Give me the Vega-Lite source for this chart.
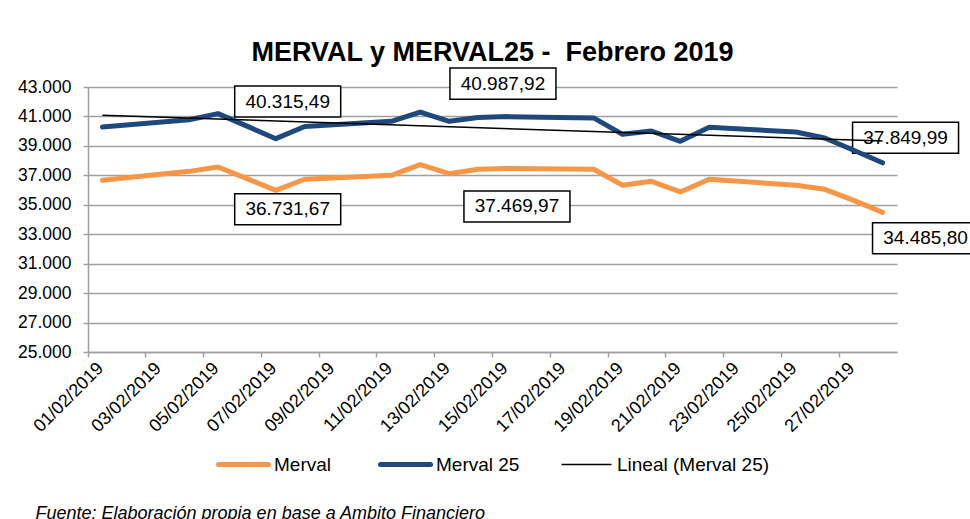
{
  "$schema": "https://vega.github.io/schema/vega-lite/v6.json",
  "background": "white",
  "padding": {"left": 17, "top": 39, "right": 5, "bottom": 5},
  "config": {
    "font": "Liberation Sans",
    "locale": {"number": {"decimal": ",", "thousands": ".", "grouping": [3], "currency": ["$", ""]}},
    "view": {"stroke": null},
    "axis": {
      "labelFont": "Liberation Sans",
      "labelFontSize": 17.5,
      "labelColor": "#000000",
      "domainColor": "#a0a0a0",
      "domainWidth": 1.5,
      "tickColor": "#a0a0a0",
      "tickWidth": 1.5,
      "tickSize": 5,
      "gridColor": "#a0a0a0",
      "gridWidth": 1.5,
      "title": null
    },
    "legend": {
      "title": null,
      "labelFont": "Liberation Sans",
      "labelFontSize": 19,
      "labelColor": "#000000",
      "symbolType": "stroke",
      "symbolSize": 2500,
      "labelOffset": 21,
      "columnPadding": 38,
      "gridAlign": "none"
    }
  },
  "title": {
    "text": "Fuente: Elaboración propia en base a Ambito Financiero",
    "orient": "bottom",
    "anchor": "start",
    "font": "Liberation Sans",
    "fontSize": 18,
    "fontStyle": "italic",
    "fontWeight": "normal",
    "color": "#000000",
    "offset": 30,
    "dx": 18
  },
  "datasets": {
    "series": [
      {"date": "01/02/2019", "series": "Merval", "value": 36660},
      {"date": "04/02/2019", "series": "Merval", "value": 37270},
      {"date": "05/02/2019", "series": "Merval", "value": 37566},
      {"date": "06/02/2019", "series": "Merval", "value": 36773},
      {"date": "07/02/2019", "series": "Merval", "value": 35980},
      {"date": "08/02/2019", "series": "Merval", "value": 36731.67},
      {"date": "11/02/2019", "series": "Merval", "value": 37000},
      {"date": "12/02/2019", "series": "Merval", "value": 37725},
      {"date": "13/02/2019", "series": "Merval", "value": 37110},
      {"date": "14/02/2019", "series": "Merval", "value": 37408},
      {"date": "15/02/2019", "series": "Merval", "value": 37469.97},
      {"date": "18/02/2019", "series": "Merval", "value": 37410},
      {"date": "19/02/2019", "series": "Merval", "value": 36323},
      {"date": "20/02/2019", "series": "Merval", "value": 36595},
      {"date": "21/02/2019", "series": "Merval", "value": 35870},
      {"date": "22/02/2019", "series": "Merval", "value": 36730},
      {"date": "25/02/2019", "series": "Merval", "value": 36323},
      {"date": "26/02/2019", "series": "Merval", "value": 36050},
      {"date": "27/02/2019", "series": "Merval", "value": 35300},
      {"date": "28/02/2019", "series": "Merval", "value": 34485.80},
      {"date": "01/02/2019", "series": "Merval 25", "value": 40283},
      {"date": "04/02/2019", "series": "Merval 25", "value": 40780},
      {"date": "05/02/2019", "series": "Merval 25", "value": 41190},
      {"date": "06/02/2019", "series": "Merval 25", "value": 40340},
      {"date": "07/02/2019", "series": "Merval 25", "value": 39490},
      {"date": "08/02/2019", "series": "Merval 25", "value": 40315.49},
      {"date": "11/02/2019", "series": "Merval 25", "value": 40670},
      {"date": "12/02/2019", "series": "Merval 25", "value": 41300},
      {"date": "13/02/2019", "series": "Merval 25", "value": 40670},
      {"date": "14/02/2019", "series": "Merval 25", "value": 40930},
      {"date": "15/02/2019", "series": "Merval 25", "value": 40987.92},
      {"date": "18/02/2019", "series": "Merval 25", "value": 40900},
      {"date": "19/02/2019", "series": "Merval 25", "value": 39786},
      {"date": "20/02/2019", "series": "Merval 25", "value": 40010},
      {"date": "21/02/2019", "series": "Merval 25", "value": 39310},
      {"date": "22/02/2019", "series": "Merval 25", "value": 40260},
      {"date": "25/02/2019", "series": "Merval 25", "value": 39943},
      {"date": "26/02/2019", "series": "Merval 25", "value": 39535},
      {"date": "27/02/2019", "series": "Merval 25", "value": 38700},
      {"date": "28/02/2019", "series": "Merval 25", "value": 37849.99}
    ],
    "trend": [
      {"date": "01/02/2019", "series": "Lineal (Merval 25)", "value": 41077},
      {"date": "28/02/2019", "series": "Lineal (Merval 25)", "value": 39332}
    ],
    "labels": [
      {"date": "08/02/2019", "series": "Merval 25", "value": 40315.49},
      {"date": "08/02/2019", "series": "Merval", "value": 36731.67},
      {"date": "15/02/2019", "series": "Merval 25", "value": 40987.92},
      {"date": "15/02/2019", "series": "Merval", "value": 37469.97},
      {"date": "28/02/2019", "series": "Merval 25", "value": 37849.99},
      {"date": "28/02/2019", "series": "Merval", "value": 34485.80}
    ]
  },
  "vconcat": [
    {
      "width": 809,
      "height": 265,
      "title": {
        "text": "MERVAL y MERVAL25 -\u00a0 Febrero 2019",
        "anchor": "middle",
        "font": "Liberation Sans",
        "fontSize": 27,
        "fontWeight": "bold",
        "color": "#000000",
        "offset": -2
      },
      "encoding": {
        "x": {
          "field": "date",
          "type": "ordinal",
          "bandPosition": 0.5,
          "scale": {
            "type": "band",
            "paddingInner": 0,
            "paddingOuter": 0,
            "domain": ["01/02/2019","02/02/2019","03/02/2019","04/02/2019","05/02/2019","06/02/2019","07/02/2019","08/02/2019","09/02/2019","10/02/2019","11/02/2019","12/02/2019","13/02/2019","14/02/2019","15/02/2019","16/02/2019","17/02/2019","18/02/2019","19/02/2019","20/02/2019","21/02/2019","22/02/2019","23/02/2019","24/02/2019","25/02/2019","26/02/2019","27/02/2019","28/02/2019"]
          },
          "axis": {
            "values": ["01/02/2019","03/02/2019","05/02/2019","07/02/2019","09/02/2019","11/02/2019","13/02/2019","15/02/2019","17/02/2019","19/02/2019","21/02/2019","23/02/2019","25/02/2019","27/02/2019"],
            "bandPosition": 0,
            "labelAngle": -45,
            "labelOffset": -8,
            "labelPadding": 2,
            "labelFontSize": 18,
            "grid": false
          }
        },
        "y": {
          "field": "value",
          "type": "quantitative",
          "scale": {"domain": [25000, 43000], "nice": false, "zero": false},
          "axis": {
            "values": [25000, 27000, 29000, 31000, 33000, 35000, 37000, 39000, 41000, 43000],
            "format": ",.0f",
            "labelPadding": 12,
            "grid": true
          }
        }
      },
      "layer": [
        {
          "data": {"name": "labels"},
          "transform": [{"filter": "datum.date == '08/02/2019' && datum.series == 'Merval 25'"}],
          "layer": [
            {"mark": {"type": "point", "shape": "M-1,-0.2925H1V0.2925H-1Z", "size": 11236, "filled": true, "fill": "white", "stroke": "black", "strokeWidth": 1.5, "opacity": 1, "xOffset": -17, "yOffset": -25}},
            {"mark": {"type": "text", "fontSize": 19, "color": "black", "dx": -17, "dy": -25}, "encoding": {"text": {"field": "value", "type": "quantitative", "format": ",.2f"}}}
          ]
        },
        {
          "data": {"name": "labels"},
          "transform": [{"filter": "datum.date == '08/02/2019' && datum.series == 'Merval'"}],
          "layer": [
            {"mark": {"type": "point", "shape": "M-1,-0.2925H1V0.2925H-1Z", "size": 11236, "filled": true, "fill": "white", "stroke": "black", "strokeWidth": 1.5, "opacity": 1, "xOffset": -17, "yOffset": 30}},
            {"mark": {"type": "text", "fontSize": 19, "color": "black", "dx": -17, "dy": 30}, "encoding": {"text": {"field": "value", "type": "quantitative", "format": ",.2f"}}}
          ]
        },
        {
          "data": {"name": "labels"},
          "transform": [{"filter": "datum.date == '15/02/2019' && datum.series == 'Merval 25'"}],
          "layer": [
            {"mark": {"type": "point", "shape": "M-1,-0.2925H1V0.2925H-1Z", "size": 11236, "filled": true, "fill": "white", "stroke": "black", "strokeWidth": 1.5, "opacity": 1, "xOffset": -4, "yOffset": -33}},
            {"mark": {"type": "text", "fontSize": 19, "color": "black", "dx": -4, "dy": -33}, "encoding": {"text": {"field": "value", "type": "quantitative", "format": ",.2f"}}}
          ]
        },
        {
          "data": {"name": "labels"},
          "transform": [{"filter": "datum.date == '15/02/2019' && datum.series == 'Merval'"}],
          "layer": [
            {"mark": {"type": "point", "shape": "M-1,-0.2925H1V0.2925H-1Z", "size": 11236, "filled": true, "fill": "white", "stroke": "black", "strokeWidth": 1.5, "opacity": 1, "xOffset": 10, "yOffset": 38}},
            {"mark": {"type": "text", "fontSize": 19, "color": "black", "dx": 10, "dy": 38}, "encoding": {"text": {"field": "value", "type": "quantitative", "format": ",.2f"}}}
          ]
        },
        {
          "data": {"name": "labels"},
          "transform": [{"filter": "datum.date == '28/02/2019' && datum.series == 'Merval 25'"}],
          "layer": [
            {"mark": {"type": "point", "shape": "M-1,-0.2925H1V0.2925H-1Z", "size": 11236, "filled": true, "fill": "white", "stroke": "black", "strokeWidth": 1.5, "opacity": 1, "xOffset": 23, "yOffset": -25}},
            {"mark": {"type": "text", "fontSize": 19, "color": "black", "dx": 23, "dy": -25}, "encoding": {"text": {"field": "value", "type": "quantitative", "format": ",.2f"}}}
          ]
        },
        {
          "data": {"name": "labels"},
          "transform": [{"filter": "datum.date == '28/02/2019' && datum.series == 'Merval'"}],
          "layer": [
            {"mark": {"type": "point", "shape": "M-1,-0.2925H1V0.2925H-1Z", "size": 11236, "filled": true, "fill": "white", "stroke": "black", "strokeWidth": 1.5, "opacity": 1, "xOffset": 43, "yOffset": 26}},
            {"mark": {"type": "text", "fontSize": 19, "color": "black", "dx": 43, "dy": 26}, "encoding": {"text": {"field": "value", "type": "quantitative", "format": ",.2f"}}}
          ]
        },
        {
          "data": {"name": "series"},
          "mark": {"type": "line", "strokeWidth": 5, "strokeJoin": "round", "strokeCap": "round"},
          "encoding": {
            "color": {
              "field": "series",
              "type": "nominal",
              "scale": {"domain": ["Merval", "Merval 25", "Lineal (Merval 25)"], "range": ["#F79646", "#1F497D", "#000000"]},
              "legend": {
                "orient": "none",
                "direction": "horizontal",
                "legendX": 146,
                "legendY": 368,
                "encode": {
                  "symbols": {
                    "update": {
                      "strokeWidth": {"signal": "datum.value == 'Lineal (Merval 25)' ? 1.5 : 5"},
                      "strokeCap": {"signal": "datum.value == 'Lineal (Merval 25)' ? 'butt' : 'round'"}
                    }
                  }
                }
              }
            }
          }
        },
        {
          "data": {"name": "trend"},
          "mark": {"type": "line", "strokeWidth": 1.5},
          "encoding": {
            "color": {"field": "series", "type": "nominal"}
          }
        }
      ]
    }
  ]
}
